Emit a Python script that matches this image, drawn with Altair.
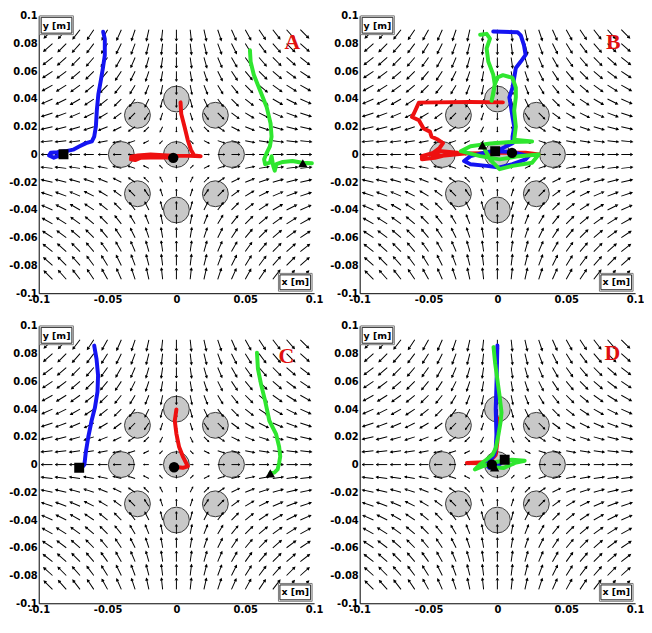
import math
import altair as alt
import pandas as pd

# ---------------- data ----------------
# quiver grid (field direction read as (x, -y): outward along x, inward along y)
grid_vals = [-0.09, -0.08, -0.07, -0.06, -0.05, -0.04, -0.03, -0.02, -0.01, 0.0,
             0.01, 0.02, 0.03, 0.04, 0.05, 0.06, 0.07, 0.08, 0.09]
# obstacle circles (x, y)
circ_x = [0.0, 0.04, 0.0283, 0.0, -0.0283, -0.04, -0.0283, 0.0, 0.0283]
circ_y = [0.0, 0.0, 0.0283, 0.04, 0.0283, 0.0, -0.0283, -0.04, -0.0283]

x_ticks = [-0.1, -0.05, 0, 0.05, 0.1]
y_ticks = [-0.1, -0.08, -0.06, -0.04, -0.02, 0, 0.02, 0.04, 0.06, 0.08, 0.1]

# Panel A
A_blue_x = [-0.0532, -0.052, -0.052, -0.0534, -0.055, -0.0567, -0.0578, -0.0585, -0.0597, -0.0614, -0.0656, -0.0703, -0.075, -0.0808, -0.0867, -0.0913, -0.0925, -0.089, -0.082]
A_blue_y = [0.0885, 0.0833, 0.0716, 0.0622, 0.0528, 0.0434, 0.0317, 0.02, 0.0129, 0.0094, 0.0082, 0.0059, 0.0035, 0.0023, 0.0016, 0.0012, -0.0007, -0.0023, 0.0002]
A_red_x = [0.003, 0.0035, 0.0059, 0.0082, 0.0105, 0.0129, 0.0176, 0.0094, 0.0, -0.0094, -0.0187, -0.028, -0.0328, -0.033, -0.03, -0.0258, -0.012, -0.0023]
A_red_y = [0.0376, 0.0293, 0.02, 0.0106, 0.0035, -0.0007, -0.0012, -0.001, -0.001, -0.0005, 0.0, -0.0007, -0.0016, -0.0035, -0.004, -0.0023, -0.002, -0.0024]
A_green_x = [0.0534, 0.0539, 0.0562, 0.0609, 0.0656, 0.0684, 0.0691, 0.0679, 0.0656, 0.0637, 0.0644, 0.0679, 0.0691, 0.0703, 0.0714, 0.0726, 0.0773, 0.0843, 0.0913, 0.0984, 0.0918]
A_green_y = [0.0751, 0.0669, 0.0575, 0.0458, 0.034, 0.0223, 0.0129, 0.0059, 0.0012, -0.0035, -0.007, -0.0059, -0.0012, -0.0082, -0.0117, -0.007, -0.0054, -0.0047, -0.0059, -0.0063, -0.0063]

# Panel B
B_blue_x = [-0.003, 0.0146, 0.017, 0.0193, 0.0205, 0.017, 0.0134, 0.0122, 0.011, 0.0087, 0.0099, 0.011, 0.0122, 0.011, 0.011, 0.0016, -0.0101, -0.0195, -0.0242, -0.0195, -0.0078, 0.0016, 0.011, 0.0205, 0.0228, 0.01, -0.0016]
B_blue_y = [0.0887, 0.0882, 0.0859, 0.0788, 0.0718, 0.067, 0.0624, 0.0553, 0.0482, 0.0412, 0.0341, 0.0271, 0.02, 0.0129, 0.0082, 0.0035, 0.0012, -0.0012, -0.0047, -0.007, -0.0082, -0.0094, -0.007, -0.0035, -0.0012, 0.002, 0.0024]
B_red_x = [0.004, -0.02, -0.045, -0.057, -0.0607, -0.062, -0.057, -0.0536, -0.049, -0.0478, -0.043, -0.0395, -0.042, -0.0466, -0.0548, -0.0548, -0.0454, -0.036, -0.029, -0.0407, -0.0478, -0.04, -0.024, -0.01, 0.005, 0.0205, 0.03, 0.02, 0.0106]
B_red_y = [0.0376, 0.0378, 0.0376, 0.0374, 0.0294, 0.027, 0.0247, 0.0188, 0.0165, 0.0129, 0.0106, 0.0082, 0.0047, 0.0012, -0.0012, -0.0035, -0.0024, 0.0, 0.0012, 0.0024, 0.0, -0.001, 0.0007, 0.001, 0.0012, 0.0012, 0.0, 0.0005, 0.0012]
B_green_x = [-0.0125, -0.0078, -0.0054, -0.0078, -0.0066, -0.003, -0.0019, -0.003, -0.0042, -0.002, 0.0, 0.004, 0.011, 0.0134, 0.0134, 0.0122, 0.0134, 0.0122, 0.0252, 0.01, -0.005, -0.0195, -0.0266, -0.0125, 0.0016, 0.0158, 0.03, 0.0252, 0.011, 0.0016, -0.005, -0.0108]
B_green_y = [0.0864, 0.087, 0.0835, 0.0765, 0.0671, 0.0576, 0.0506, 0.0435, 0.0388, 0.05, 0.0555, 0.0572, 0.0553, 0.0482, 0.0412, 0.0318, 0.02, 0.0106, 0.0094, 0.009, 0.008, 0.0059, 0.0024, -0.0012, -0.0035, -0.0012, 0.0, -0.0059, -0.0082, -0.0106, -0.004, 0.0066]

# Panel C
C_blue_x = [-0.0597, -0.058, -0.0569, -0.0573, -0.0592, -0.0616, -0.064, -0.0659, -0.0668, -0.0687, -0.0706]
C_blue_y = [0.0858, 0.076, 0.0643, 0.0526, 0.0409, 0.0316, 0.0199, 0.0082, 0.0, -0.0023, -0.0023]
C_red_x = [0.0, -0.0012, 0.0, 0.0019, 0.0047, 0.0083, 0.0047, 0.0012, -0.0017]
C_red_y = [0.0398, 0.0316, 0.0222, 0.0129, 0.0058, -0.0012, -0.0023, -0.0019, -0.0019]
C_green_x = [0.0585, 0.0592, 0.0616, 0.0645, 0.0675, 0.0723, 0.0746, 0.0754, 0.0746, 0.0735, 0.0711, 0.0682]
C_green_y = [0.0807, 0.069, 0.0573, 0.0456, 0.0316, 0.0222, 0.0129, 0.0058, 0.0012, -0.0035, -0.0058, -0.0063]

# Panel D
D_blue_x = [0.0, -0.0005, -0.0012, -0.0007, -0.0012, -0.0023, -0.0047, -0.0081, -0.0058, 0.0, 0.0053]
D_blue_y = [0.0859, 0.0635, 0.04, 0.0212, 0.0118, 0.0071, 0.0035, 0.0, -0.0024, -0.001, 0.0035]
D_red_x = [0.0007, 0.0, -0.0012, -0.0058, -0.0221, -0.012, -0.004]
D_red_y = [0.033, 0.0165, 0.007, 0.0019, 0.0012, 0.001, 0.0]
D_green_x = [-0.0028, -0.0016, 0.0, 0.0016, 0.003, 0.0023, 0.0007, -0.0012, -0.0035, -0.0081, -0.0128, -0.0163, -0.0105, -0.0012, 0.0105, 0.0198, 0.0128, 0.0047, -0.002]
D_green_y = [0.0847, 0.0729, 0.0612, 0.0494, 0.0376, 0.0306, 0.0212, 0.0118, 0.0071, 0.0035, 0.0, -0.0035, -0.0012, 0.0019, 0.0035, 0.0028, 0.0012, -0.0024, -0.002]

panels = {
    "A": (A_blue_x, A_blue_y, A_red_x, A_red_y, A_green_x, A_green_y),
    "B": (B_blue_x, B_blue_y, B_red_x, B_red_y, B_green_x, B_green_y),
    "C": (C_blue_x, C_blue_y, C_red_x, C_red_y, C_green_x, C_green_y),
    "D": (D_blue_x, D_blue_y, D_red_x, D_red_y, D_green_x, D_green_y),
}

# ---------------- styling ----------------
W = 278
H = 280
PX = W / 0.2
BLUE = "#1414f2"
RED = "#ee1010"
GREEN = "#2fe62f"
LMAX = 0.0088
R0 = 0.035
ARROW = "M0,1L0,-1M-0.22,-0.6L0,-1L0.22,-0.6"

rows = []
for gx in grid_vals:
    for gy in grid_vals:
        u, v = gx, -gy
        r = math.hypot(u, v)
        if r == 0:
            continue
        L = LMAX * (1 - math.exp(-r / R0))
        rows.append({
            "cx": gx + 0.5 * L * u / r,
            "cy": gy + 0.5 * L * v / r,
            "ang": (math.degrees(math.atan2(u, v)) + 360) % 360,
            "sz": (L * PX) ** 2,
        })
field_df = pd.DataFrame(rows)
circ_df = pd.DataFrame({"x": circ_x, "y": circ_y})

xs = alt.Scale(domain=[-0.1, 0.1], nice=False, zero=False)
ys = alt.Scale(domain=[-0.1, 0.1], nice=False, zero=False)
lab = "'' + datum.value"
xax = alt.Axis(values=x_ticks, labelExpr=lab, title=None, labelOverlap=False, labelFlush=False)
yax = alt.Axis(values=y_ticks, labelExpr=lab, title=None, labelOverlap=False, labelFlush=False)

one = pd.DataFrame({"a": [0]})


def traj(xl, yl, color):
    df = pd.DataFrame({"x": xl, "y": yl, "i": list(range(len(xl)))})
    return alt.Chart(df).mark_line(color=color, strokeWidth=4, strokeJoin="round", strokeCap="round",
                                   clip=True).encode(
        x=alt.X("x:Q", scale=xs, axis=xax), y=alt.Y("y:Q", scale=ys, axis=yax), order="i:Q")


def endmark(xl, yl, shape, size):
    df = pd.DataFrame({"x": [xl[-1]], "y": [yl[-1]]})
    return alt.Chart(df).mark_point(shape=shape, size=size, filled=True, color="black", opacity=1,
                                    clip=True).encode(
        x=alt.X("x:Q", scale=xs, axis=xax), y=alt.Y("y:Q", scale=ys, axis=yax))


letter_pos = {"A": (W - 22, 34), "B": (W - 22, 33), "C": (W - 28, 37), "D": (W - 23, 34)}


def panel(name):
    bx, by, rx, ry, gxl, gyl = panels[name]
    field = alt.Chart(field_df).mark_point(shape=ARROW, filled=False, stroke="black", strokeWidth=1, opacity=1,
                                           clip=True).encode(
        x=alt.X("cx:Q", scale=xs, axis=xax), y=alt.Y("cy:Q", scale=ys, axis=yax),
        angle=alt.Angle("ang:Q", scale=None), size=alt.Size("sz:Q", scale=None))
    circles = alt.Chart(circ_df).mark_point(shape="circle", size=680, filled=True, fill="#c8c8c8",
                                            stroke="#3a3a3a", strokeWidth=1, opacity=1, clip=True).encode(
        x=alt.X("x:Q", scale=xs, axis=xax), y=alt.Y("y:Q", scale=ys, axis=yax))
    layers = [circles, field,
              traj(rx, ry, RED), traj(bx, by, BLUE), traj(gxl, gyl, GREEN),
              endmark(bx, by, "square", 100), endmark(rx, ry, "circle", 110), endmark(gxl, gyl, "triangle-up", 90)]
    # label boxes
    boxes = [(1, 35, 0, 19, "y [m]", 18, 10),
             (W - 36, W - 2, H - 20, H - 2, "x [m]", W - 19, H - 11)]
    for (x1, x2, y1, y2, txt, tx, ty) in boxes:
        layers.append(alt.Chart(one).mark_rect(fill="white", stroke="#7a7a7a", strokeWidth=1).encode(
            x=alt.value(x1), x2=alt.value(x2), y=alt.value(y1), y2=alt.value(y2)))
        layers.append(alt.Chart(one).mark_rect(fill="white", stroke="#222222", strokeWidth=1).encode(
            x=alt.value(x1 + 1.5), x2=alt.value(x2 - 1.5), y=alt.value(y1 + 1.5), y2=alt.value(y2 - 1.5)))
        layers.append(alt.Chart(one).mark_text(text=txt, font="DejaVu Sans", fontSize=9.5, fontWeight="bold",
                                               color="black", align="center", baseline="middle").encode(
            x=alt.value(tx), y=alt.value(ty)))
    lx, ly = letter_pos[name]
    layers.append(alt.Chart(one).mark_text(text=name, font="Liberation Serif", fontSize=22, fontWeight="bold",
                                           color="#e01010", align="center", baseline="alphabetic").encode(
        x=alt.value(lx), y=alt.value(ly)))
    return alt.layer(*layers).properties(width=W, height=H)


top = alt.hconcat(panel("A"), panel("B"), spacing=6)
bottom = alt.hconcat(panel("C"), panel("D"), spacing=6)
chart = alt.vconcat(top, bottom, spacing=14).properties(
    padding={"left": 0, "top": 0, "right": 0, "bottom": 0}
).configure_view(stroke=None).configure_axis(
    labelFont="DejaVu Sans", labelFontWeight="bold", labelFontSize=10, labelColor="black",
    domainColor="black", domainWidth=1, ticks=False, grid=False, labelPadding=1.5,
    labelFlush=False, labelOverlap=False, labelBound=False
).configure_axisY(minExtent=30, maxExtent=30).configure_axisX(minExtent=14, maxExtent=14)

chart.save("out.html", embed_options={"renderer": "svg", "actions": False})
